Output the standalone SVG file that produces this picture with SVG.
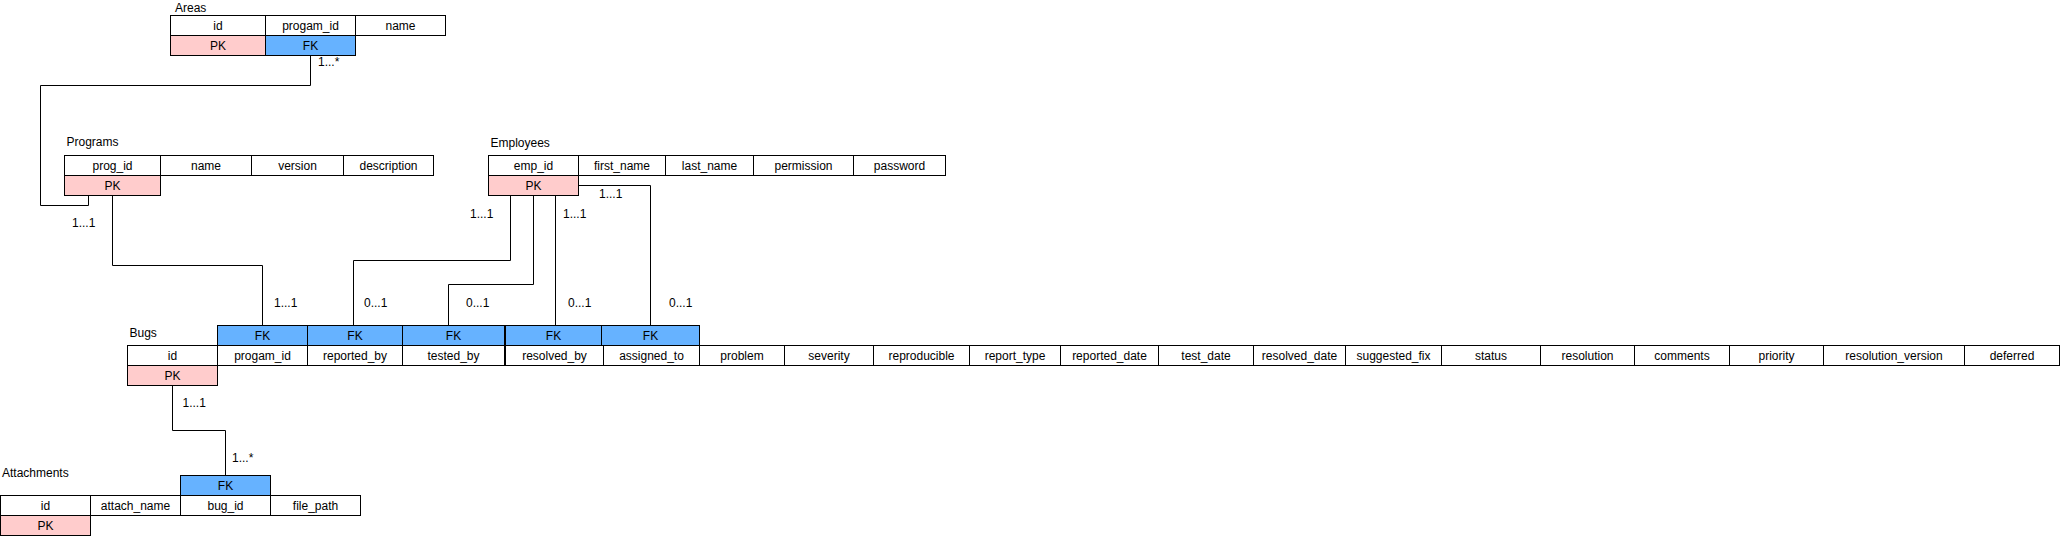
<svg xmlns="http://www.w3.org/2000/svg" width="2060" height="536" viewBox="0 0 2060 536">
<style>
.c{fill:#ffffff;stroke:#000000;stroke-width:1}
.pk{fill:#ffcccc;stroke:#000000;stroke-width:1}
.fk{fill:#66b2ff;stroke:#000000;stroke-width:1}
text{font-family:"Liberation Sans",Arial,Helvetica,sans-serif;font-size:12px;fill:#000000}
.t{text-anchor:middle}
.l{text-anchor:start}
.ln{fill:none;stroke:#000000;stroke-width:1}
</style>
<rect x="0" y="0" width="2060" height="536" fill="#ffffff"/>
<g id="connectors">
<path class="ln" d="M310.5,55.5 V85.5 H40.5 V205.5 H88.5 V195.5"/>
<path class="ln" d="M112.5,195.5 V265.5 H262.5 V325.5"/>
<path class="ln" d="M510.5,195.5 V260.5 H353.5 V325.5"/>
<path class="ln" d="M533.5,195.5 V284.5 H448.5 V325.5"/>
<path class="ln" d="M555.5,195.5 V325.5"/>
<path class="ln" d="M578.5,185.5 H650.5 V325.5"/>
<path class="ln" d="M172.5,385.5 V430.5 H225.5 V475.5"/>
<text class="l" x="318" y="66">1...*</text>
<text class="l" x="72" y="227">1...1</text>
<text class="l" x="274" y="307">1...1</text>
<text class="l" x="364" y="307">0...1</text>
<text class="l" x="466" y="307">0...1</text>
<text class="l" x="568" y="307">0...1</text>
<text class="l" x="669" y="307">0...1</text>
<text class="l" x="470" y="217.5">1...1</text>
<text class="l" x="563" y="217.5">1...1</text>
<text class="l" x="599" y="197.5">1...1</text>
<text class="l" x="182.5" y="407">1...1</text>
<text class="l" x="232" y="462">1...*</text>
</g>
<g id="areas">
<text class="l" x="175" y="11.5">Areas</text>
<rect class="c" x="170.5" y="15.5" width="95" height="20"/>
<rect class="c" x="265.5" y="15.5" width="90" height="20"/>
<rect class="c" x="355.5" y="15.5" width="90" height="20"/>
<rect class="pk" x="170.5" y="35.5" width="95" height="20"/>
<rect class="fk" x="265.5" y="35.5" width="90" height="20"/>
<text class="t" x="218" y="29.5">id</text>
<text class="t" x="310.5" y="29.5">progam_id</text>
<text class="t" x="400.5" y="29.5">name</text>
<text class="t" x="218" y="49.5">PK</text>
<text class="t" x="310.5" y="49.5">FK</text>
</g>
<g id="programs">
<text class="l" x="66.5" y="146">Programs</text>
<rect class="c" x="64.5" y="155.5" width="96" height="20"/>
<rect class="c" x="160.5" y="155.5" width="91" height="20"/>
<rect class="c" x="251.5" y="155.5" width="92" height="20"/>
<rect class="c" x="343.5" y="155.5" width="90" height="20"/>
<rect class="pk" x="64.5" y="175.5" width="96" height="20"/>
<text class="t" x="112.5" y="169.5">prog_id</text>
<text class="t" x="206" y="169.5">name</text>
<text class="t" x="297.5" y="169.5">version</text>
<text class="t" x="388.5" y="169.5">description</text>
<text class="t" x="112.5" y="189.5">PK</text>
</g>
<g id="employees">
<text class="l" x="490.5" y="147">Employees</text>
<rect class="c" x="488.5" y="155.5" width="90" height="20"/>
<rect class="c" x="578.5" y="155.5" width="87" height="20"/>
<rect class="c" x="665.5" y="155.5" width="88" height="20"/>
<rect class="c" x="753.5" y="155.5" width="100" height="20"/>
<rect class="c" x="853.5" y="155.5" width="92" height="20"/>
<rect class="pk" x="488.5" y="175.5" width="90" height="20"/>
<text class="t" x="533.5" y="169.5">emp_id</text>
<text class="t" x="622" y="169.5">first_name</text>
<text class="t" x="709.5" y="169.5">last_name</text>
<text class="t" x="803.5" y="169.5">permission</text>
<text class="t" x="899.5" y="169.5">password</text>
<text class="t" x="533.5" y="189.5">PK</text>
</g>
<g id="bugs">
<text class="l" x="129.5" y="337">Bugs</text>
<rect class="fk" x="217.5" y="325.5" width="90" height="20"/>
<rect class="fk" x="307.5" y="325.5" width="95" height="20"/>
<rect class="fk" x="402.5" y="325.5" width="102" height="20"/>
<rect class="fk" x="505.5" y="325.5" width="96" height="20"/>
<rect class="fk" x="601.5" y="325.5" width="98" height="20"/>
<text class="t" x="262.5" y="339.5">FK</text>
<text class="t" x="355" y="339.5">FK</text>
<text class="t" x="453.5" y="339.5">FK</text>
<text class="t" x="553.5" y="339.5">FK</text>
<text class="t" x="650.5" y="339.5">FK</text>
<rect class="c" x="127.5" y="345.5" width="90" height="20"/>
<rect class="c" x="217.5" y="345.5" width="90" height="20"/>
<rect class="c" x="307.5" y="345.5" width="95" height="20"/>
<rect class="c" x="402.5" y="345.5" width="102" height="20"/>
<rect class="c" x="505.5" y="345.5" width="98" height="20"/>
<rect class="c" x="603.5" y="345.5" width="96" height="20"/>
<rect class="c" x="699.5" y="345.5" width="85" height="20"/>
<rect class="c" x="784.5" y="345.5" width="89" height="20"/>
<rect class="c" x="873.5" y="345.5" width="96" height="20"/>
<rect class="c" x="969.5" y="345.5" width="91" height="20"/>
<rect class="c" x="1060.5" y="345.5" width="98" height="20"/>
<rect class="c" x="1158.5" y="345.5" width="95" height="20"/>
<rect class="c" x="1253.5" y="345.5" width="92" height="20"/>
<rect class="c" x="1345.5" y="345.5" width="96" height="20"/>
<rect class="c" x="1441.5" y="345.5" width="99" height="20"/>
<rect class="c" x="1540.5" y="345.5" width="94" height="20"/>
<rect class="c" x="1634.5" y="345.5" width="95" height="20"/>
<rect class="c" x="1729.5" y="345.5" width="94" height="20"/>
<rect class="c" x="1823.5" y="345.5" width="141" height="20"/>
<rect class="c" x="1964.5" y="345.5" width="95" height="20"/>
<text class="t" x="172.5" y="359.5">id</text>
<text class="t" x="262.5" y="359.5">progam_id</text>
<text class="t" x="355" y="359.5">reported_by</text>
<text class="t" x="453.5" y="359.5">tested_by</text>
<text class="t" x="554.5" y="359.5">resolved_by</text>
<text class="t" x="651.5" y="359.5">assigned_to</text>
<text class="t" x="742" y="359.5">problem</text>
<text class="t" x="829" y="359.5">severity</text>
<text class="t" x="921.5" y="359.5">reproducible</text>
<text class="t" x="1015" y="359.5">report_type</text>
<text class="t" x="1109.5" y="359.5">reported_date</text>
<text class="t" x="1206" y="359.5">test_date</text>
<text class="t" x="1299.5" y="359.5">resolved_date</text>
<text class="t" x="1393.5" y="359.5">suggested_fix</text>
<text class="t" x="1491" y="359.5">status</text>
<text class="t" x="1587.5" y="359.5">resolution</text>
<text class="t" x="1682" y="359.5">comments</text>
<text class="t" x="1776.5" y="359.5">priority</text>
<text class="t" x="1894" y="359.5">resolution_version</text>
<text class="t" x="2012" y="359.5">deferred</text>
<rect class="pk" x="127.5" y="365.5" width="90" height="20"/>
<text class="t" x="172.5" y="379.5">PK</text>
</g>
<g id="attachments">
<text class="l" x="2" y="477">Attachments</text>
<rect class="fk" x="180.5" y="475.5" width="90" height="20"/>
<text class="t" x="225.5" y="489.5">FK</text>
<rect class="c" x="0.5" y="495.5" width="90" height="20"/>
<rect class="c" x="90.5" y="495.5" width="90" height="20"/>
<rect class="c" x="180.5" y="495.5" width="90" height="20"/>
<rect class="c" x="270.5" y="495.5" width="90" height="20"/>
<text class="t" x="45.5" y="509.5">id</text>
<text class="t" x="135.5" y="509.5">attach_name</text>
<text class="t" x="225.5" y="509.5">bug_id</text>
<text class="t" x="315.5" y="509.5">file_path</text>
<rect class="pk" x="0.5" y="515.5" width="90" height="20"/>
<text class="t" x="45.5" y="529.5">PK</text>
</g>
</svg>
